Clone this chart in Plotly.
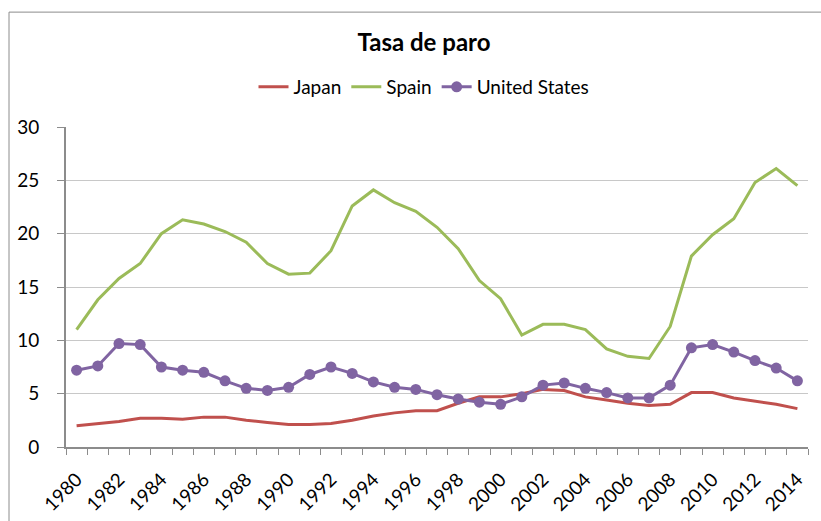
import plotly.graph_objects as go

years = list(range(1980, 2015))
japan = [2.0, 2.2, 2.4, 2.7, 2.7, 2.6, 2.8, 2.8, 2.5, 2.3, 2.1, 2.1, 2.2, 2.5, 2.9, 3.2, 3.4, 3.4,
         4.1, 4.7, 4.7, 5.0, 5.4, 5.3, 4.7, 4.4, 4.1, 3.9, 4.0, 5.1, 5.1, 4.6, 4.3, 4.0, 3.6]
spain = [11.0, 13.8, 15.8, 17.2, 20.0, 21.3, 20.9, 20.2, 19.2, 17.2, 16.2, 16.3, 18.4, 22.6, 24.1,
         22.9, 22.1, 20.6, 18.6, 15.6, 13.9, 10.5, 11.5, 11.5, 11.0, 9.2, 8.5, 8.3, 11.3, 17.9,
         19.9, 21.4, 24.8, 26.1, 24.5]
usa = [7.2, 7.6, 9.7, 9.6, 7.5, 7.2, 7.0, 6.2, 5.5, 5.3, 5.6, 6.8, 7.5, 6.9, 6.1, 5.6, 5.4, 4.9,
       4.5, 4.2, 4.0, 4.7, 5.8, 6.0, 5.5, 5.1, 4.6, 4.6, 5.8, 9.3, 9.6, 8.9, 8.1, 7.4, 6.2]
label_years = list(range(1980, 2015, 2))
y_ticks = [0, 5, 10, 15, 20, 25, 30]

FONT = "Lato"
fig = go.Figure()
fig.add_trace(go.Scatter(x=years, y=japan, name="Japan", mode="lines",
                         line=dict(color="#C0504D", width=3)))
fig.add_trace(go.Scatter(x=years, y=spain, name="Spain", mode="lines",
                         line=dict(color="#9BBB59", width=3)))
fig.add_trace(go.Scatter(x=years, y=usa, name="United States", mode="lines+markers",
                         line=dict(color="#8064A2", width=3),
                         marker=dict(color="#8064A2", size=11, symbol="circle")))

fig.add_shape(type="rect", xref="paper", yref="paper",
              x0=-0.0768, x1=1.05, y0=-0.3, y1=1.359,
              line=dict(color="#8C8C8C", width=1), fillcolor="rgba(0,0,0,0)", layer="below")

fig.update_layout(
    width=821, height=521,
    margin=dict(l=66, r=13, t=127, b=74, autoexpand=False),
    paper_bgcolor="white", plot_bgcolor="white",
    font=dict(family=FONT, color="black"),
    title=dict(text="<b>Tasa de paro</b>", x=424/821, xref="container", xanchor="center",
               y=1 - 43/521, yref="container", yanchor="middle",
               font=dict(family=FONT, size=24, color="black")),
    legend=dict(orientation="h", x=424/821, xref="container", xanchor="center",
                y=1 - 87/521, yref="container", yanchor="middle",
                font=dict(family=FONT, size=19), itemwidth=30, traceorder="normal"),
    showlegend=True,
)
fig.update_xaxes(range=[1979.5, 2014.5], tickmode="array", tickvals=label_years,
                 ticktext=[str(y) for y in label_years], tickangle=-45,
                 ticks="", showgrid=False, zeroline=False, automargin=False,
                 showline=True, linecolor="#8C8C8C", linewidth=2,
                 ticklabelstandoff=12,
                 tickfont=dict(family=FONT, size=19, color="black"),
                 minor=dict(tickmode="array", tickvals=[y - 0.5 for y in years] + [2014.5],
                            ticks="outside", ticklen=6, tickcolor="#8C8C8C", tickwidth=1,
                            showgrid=False))
fig.update_yaxes(range=[0, 30], tickmode="array", tickvals=y_ticks,
                 ticks="outside", ticklen=7, tickcolor="#8C8C8C", tickwidth=1,
                 showgrid=True, gridcolor="#C8C8C8", gridwidth=1, zeroline=False,
                 showline=True, linecolor="#8C8C8C", linewidth=2, automargin=False,
                 ticklabelstandoff=14,
                 tickfont=dict(family=FONT, size=19, color="black"))

fig.write_html("out.html", config={"displayModeBar": False},
               post_script="document.body.style.margin='0px';")
